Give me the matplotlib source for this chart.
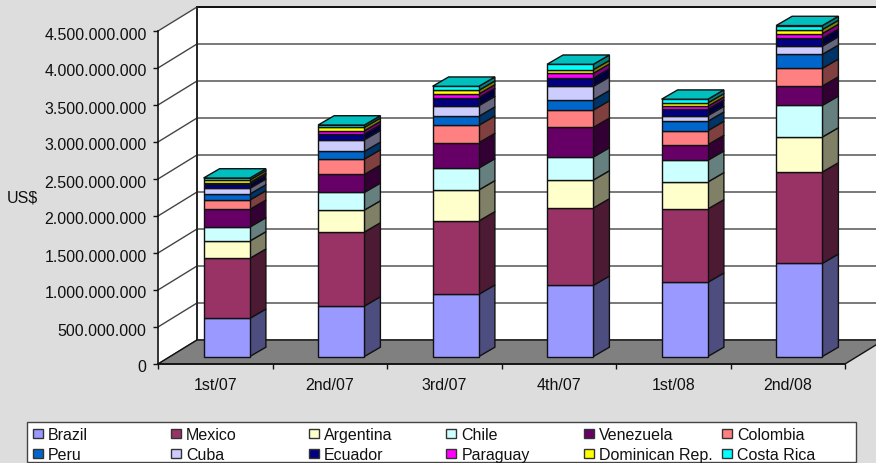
import matplotlib
matplotlib.use('Agg')
import matplotlib.pyplot as plt
from matplotlib.colors import to_rgb
from matplotlib.patches import Rectangle
from matplotlib.ticker import FuncFormatter
from matplotlib.transforms import ScaledTranslation
import numpy as np

plt.rcParams['font.family'] = ['Liberation Sans', 'DejaVu Sans']

quarters = ['1st/07', '2nd/07', '3rd/07', '4th/07', '1st/08', '2nd/08']

# values in millions of US$
brazil = [516, 682, 841, 962, 1003, 1259]
mexico = [811, 1000, 991, 1045, 991, 1234]
argentina = [234, 297, 419, 378, 365, 473]
chile = [189, 239, 297, 311, 293, 428]
venezuela = [239, 243, 342, 401, 211, 261]
colombia = [126, 207, 235, 234, 189, 239]
peru = [81, 104, 122, 139, 127, 189]
cuba = [77, 157, 143, 181, 76, 112]
ecuador = [58, 77, 108, 112, 86, 104]
paraguay = [20, 45, 50, 64, 41, 65]
dominican = [34, 46, 50, 49, 45, 54]
costa_rica = [27, 31, 54, 73, 50, 54]

names = ['Brazil', 'Mexico', 'Argentina', 'Chile', 'Venezuela', 'Colombia',
         'Peru', 'Cuba', 'Ecuador', 'Paraguay', 'Dominican Rep.', 'Costa Rica']
series = [brazil, mexico, argentina, chile, venezuela, colombia,
          peru, cuba, ecuador, paraguay, dominican, costa_rica]
colors = ['#9999FF', '#993366', '#FFFFCC', '#CCFFFF', '#660066', '#FF8080',
          '#0066CC', '#CCCCFF', '#000080', '#FF00FF', '#FFFF00', '#00FFFF']

W, H = 876, 464
FS = 11.5
LINE = '#111111'

# fake 3d offsets, in data units (x = categories, y = US$)
PX_Y = 4.5e9 / 333
wall_dx, wall_dy = 39 / 114.5, 24 * PX_Y
bar_dx, bar_dy = 11.5 / 114.5, 7.5 * PX_Y
side_dx, side_dy = 16 / 114.5, 9.3 * PX_Y
bar_w = 46.3 / 114.5


def shade(color, f):
    return tuple(c * f for c in to_rgb(color))


fig = plt.figure(figsize=(W / 100, H / 100), dpi=100, facecolor='#DDDDDD')
ax = fig.add_axes([158 / W, 1 - 365 / H, 687 / W, 333 / H])
ymax = 4.5e9
ax.set_xlim(0, 6)
ax.set_ylim(0, ymax)
ax.patch.set_visible(False)

# back wall, side wall and floor
ax.fill([wall_dx, 6 + wall_dx, 6 + wall_dx, wall_dx],
        [wall_dy, wall_dy, ymax + wall_dy, ymax + wall_dy],
        color='white', clip_on=False, zorder=0)
ax.fill([0, wall_dx, wall_dx, 0], [0, wall_dy, ymax + wall_dy, ymax],
        color='white', clip_on=False, zorder=0)
ax.fill([0, 6, 6 + wall_dx, wall_dx], [0, 0, wall_dy, wall_dy],
        facecolor='#808080', edgecolor=LINE, lw=1, clip_on=False, zorder=1)

ticks = np.arange(0, 4.5e9 + 1, 5e8)
for t in ticks:
    ax.plot([0, wall_dx, 6 + wall_dx], [t, t + wall_dy, t + wall_dy],
            color='#444444', lw=1, clip_on=False, zorder=0.5)
ax.plot([wall_dx, 6 + wall_dx], [ymax + wall_dy] * 2, color='black', lw=1.2,
        clip_on=False, zorder=0.6)
ax.plot([wall_dx, wall_dx], [wall_dy, ymax + wall_dy], color='#222222', lw=1.4,
        clip_on=False, zorder=0.6)

# stacked bars: front with ax.bar, sides and top as polygons
x = np.arange(6) + 0.5 + bar_dx
bottom = np.zeros(6)
for name, vals, col in zip(names, series, colors):
    v = np.array(vals) * 1e6
    ax.bar(x, v, bar_w, bottom=bottom + bar_dy, color=col, edgecolor=LINE,
           lw=1, clip_on=False, zorder=3)
    for xi, b, h in zip(x, bottom + bar_dy, v):
        xr = xi + bar_w / 2
        ax.fill([xr, xr + side_dx, xr + side_dx, xr],
                [b, b + side_dy, b + h + side_dy, b + h],
                facecolor=shade(col, 0.5), edgecolor=LINE, lw=1,
                clip_on=False, zorder=2)
    bottom = bottom + v

for xi, t in zip(x, bottom + bar_dy):
    xl, xr = xi - bar_w / 2, xi + bar_w / 2
    ax.fill([xl, xr, xr + side_dx, xl + side_dx], [t, t, t + side_dy, t + side_dy],
            facecolor=shade(colors[-1], 0.75), edgecolor=LINE, lw=1,
            clip_on=False, zorder=4)

# axes
for s in ['top', 'right']:
    ax.spines[s].set_visible(False)
for s in ['left', 'bottom']:
    ax.spines[s].set_color(LINE)
    ax.spines[s].set_linewidth(1.2)
    ax.spines[s].set_zorder(5)
ax.set_yticks(ticks)
ax.yaxis.set_major_formatter(FuncFormatter(lambda v, p: f'{int(v):,}'.replace(',', '.')))
ax.set_xticks(np.arange(7))
ax.set_xticklabels([])
ax.set_xticks(np.arange(6) + 0.5, quarters, minor=True)
ax.tick_params(axis='x', which='major', length=3.6, width=1, color=LINE)
ax.tick_params(axis='x', which='minor', length=0, pad=9.5, labelsize=FS, labelcolor='#111111')
ax.tick_params(axis='y', length=3.6, width=1, color=LINE, pad=4.5, labelsize=FS, labelcolor='#111111')

# y labels sit a little lower than the ticks in the original
nudge = ScaledTranslation(0, -1.5 / 100, fig.dpi_scale_trans)
for lbl in ax.get_yticklabels():
    lbl.set_transform(lbl.get_transform() + nudge)

fig.text(7 / W, 1 - 198 / H, 'US$', fontsize=FS, color='#111111', va='center', ha='left')

# legend box with even columns
tr = fig.transFigure
fig.add_artist(Rectangle((27 / W, 1 - 463 / H), 829 / W, 40.5 / H, transform=tr,
                         facecolor='white', edgecolor='#444444', lw=1))
for i, (name, col) in enumerate(zip(names, colors)):
    px = 33 + 137.8 * (i % 6)
    py = 434 + 20 * (i // 6)
    fig.add_artist(Rectangle((px / W, 1 - (py + 4.5) / H), 10 / W, 9 / H, transform=tr,
                             facecolor=col, edgecolor='#333333', lw=1))
    fig.text((px + 15) / W, 1 - py / H, name, fontsize=FS, color='#111111',
             va='center_baseline', ha='left')

fig.savefig('out.png', dpi=100, facecolor=fig.get_facecolor())
